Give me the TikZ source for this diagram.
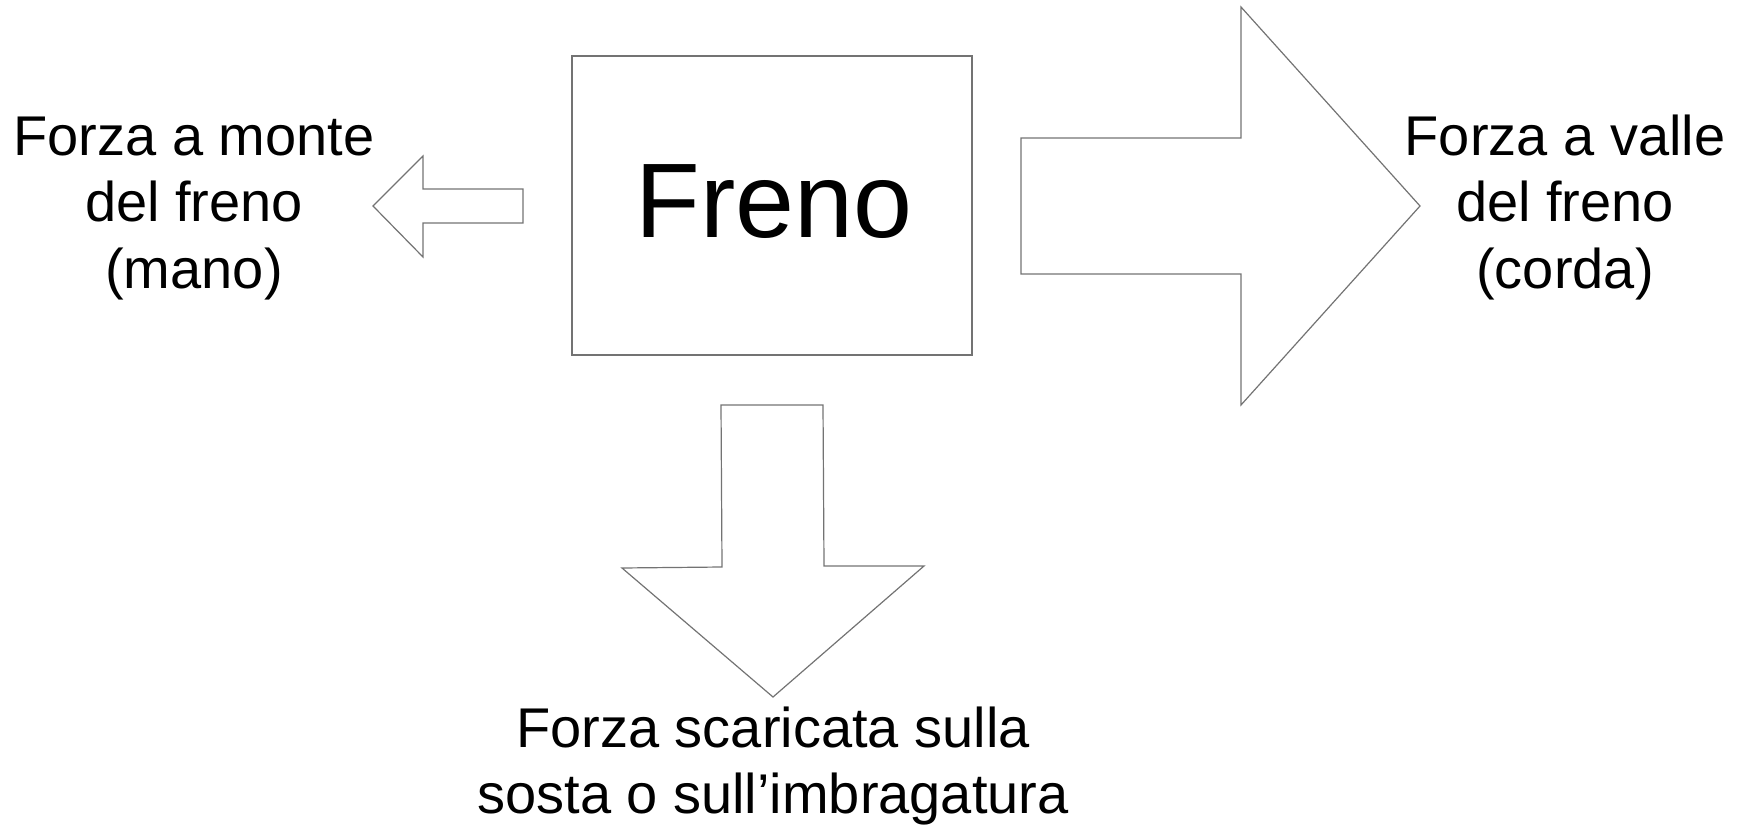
\documentclass[tikz,border=0pt]{standalone}
\usepackage{fontspec}
\setmainfont{Liberation Sans}
\begin{document}
\begin{tikzpicture}[x=1pt,y=-1pt,
  shapeline/.style={draw=black!55,line width=1.2pt,line join=miter},
  label/.style={align=center,inner sep=0pt,font=\fontsize{56}{67}\selectfont}]
\useasboundingbox (0,0) rectangle (1745,826);
% box
\node[shapeline,minimum width=400pt,minimum height=299pt,inner sep=0pt] (box) at (772,205.5) {};
\node[anchor=base,inner sep=0pt,font=\fontsize{106}{120}\selectfont] (freno) at (774,238) {Freno};
% left arrow
\draw[shapeline] (523,189) -- (423,189) -- (423,156) -- (373,206) -- (423,257) -- (423,223) -- (523,223) -- cycle;
% right arrow
\draw[shapeline] (1021,138) -- (1241,138) -- (1241,7) -- (1420,206) -- (1241,405) -- (1241,274) -- (1021,274) -- cycle;
% down arrow
\draw[shapeline] (721,405) -- (823,405) -- (824,566) -- (924,566) -- (773,697) -- (622,568) -- (722,567) -- cycle;
% labels
\node[label,anchor=base] (lmonte) at (194,289) {Forza a monte\\del freno\\(mano)};
\node[label,anchor=base] (lvalle) at (1565,289) {Forza a valle\\del freno\\(corda)};
\node[label,anchor=base,font=\fontsize{56}{66}\selectfont] (lsosta) at (773,813) {Forza scaricata sulla\\sosta o sull’imbragatura};
\end{tikzpicture}
\end{document}
